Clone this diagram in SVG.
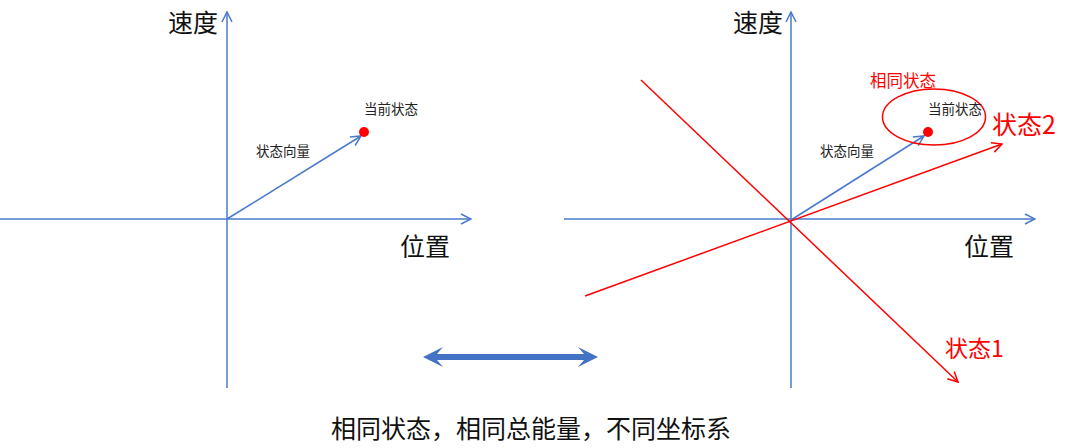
<svg xmlns="http://www.w3.org/2000/svg" width="1080" height="448" viewBox="0 0 1080 448">
<style>
.ax{stroke:#4a78cc;stroke-width:1.5;fill:none}
.rd{stroke:#ff0000;stroke-width:1.5;fill:none}
text{font-family:"Noto Sans CJK SC","Liberation Sans",sans-serif}
.big{font-size:25px;fill:#111}
.sm{font-size:13.5px;fill:#222}
.red{fill:#ff0000}
</style>
<defs>
<marker id="ab" viewBox="0 0 12 12" refX="11" refY="6" markerWidth="12" markerHeight="12" markerUnits="userSpaceOnUse" orient="auto">
<path d="M1,1 L11,6 L1,11" fill="none" stroke="#4a78cc" stroke-width="1.5"/>
</marker>
<marker id="ar" viewBox="0 0 12 12" refX="11" refY="6" markerWidth="12" markerHeight="12" markerUnits="userSpaceOnUse" orient="auto">
<path d="M1,1 L11,6 L1,11" fill="none" stroke="#ff0000" stroke-width="1.5"/>
</marker>
</defs>
<rect width="1080" height="448" fill="#fff"/>
<g id="connectors">
<line class="ax" x1="227" y1="388" x2="227" y2="12" marker-end="url(#ab)"/>
<line class="ax" x1="0" y1="219" x2="471" y2="219" marker-end="url(#ab)"/>
<line class="ax" x1="227" y1="219" x2="361" y2="136" marker-end="url(#ab)"/>
<line class="ax" x1="791" y1="388" x2="791" y2="12" marker-end="url(#ab)"/>
<line class="ax" x1="564" y1="219" x2="1035" y2="219" marker-end="url(#ab)"/>
<line class="ax" x1="791" y1="220" x2="924" y2="136" marker-end="url(#ab)"/>
<line class="rd" x1="641" y1="80" x2="958" y2="382" marker-end="url(#ar)"/>
<line class="rd" x1="585" y1="296" x2="1002" y2="144" marker-end="url(#ar)"/>
<polygon points="423,357 443,347 437,354 584,354 578,347 598,357 578,367 584,360 437,360 443,367" fill="#4472c4"/>
</g>
<g id="left-plot">
<text class="big" x="168" y="32">速度</text>
<text class="big" x="400" y="256">位置</text>
<circle cx="364" cy="132" r="5" fill="#ff0000"/>
<text class="sm" x="364" y="114">当前状态</text>
<text class="sm" x="256" y="156">状态向量</text>
</g>
<g id="right-plot">
<text class="big" x="733" y="32">速度</text>
<text class="big" x="964" y="256">位置</text>
<ellipse cx="934" cy="117" rx="51.5" ry="28" class="rd"/>
<circle cx="928" cy="132" r="5" fill="#ff0000"/>
<text class="sm" x="928" y="114">当前状态</text>
<text class="sm" x="820" y="156">状态向量</text>
<text class="red" x="870" y="87" font-size="16.5">相同状态</text>
<text class="red" x="992" y="134" font-size="25">状态2</text>
<text class="red" x="945" y="357" font-size="23">状态1</text>
</g>
<g id="caption">
<text class="big" x="331" y="438">相同状态，相同总能量，不同坐标系</text>
</g>
</svg>
